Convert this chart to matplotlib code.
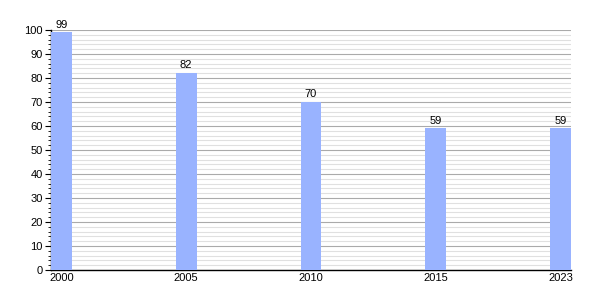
import matplotlib
matplotlib.use('Agg')
import matplotlib.pyplot as plt
import numpy as np
from matplotlib.ticker import MultipleLocator

plt.rcParams['font.family'] = ['Liberation Sans', 'DejaVu Sans']

years = ['2000', '2005', '2010', '2015', '2023']
values = [99, 82, 70, 59, 59]

BAR_W = 0.166

fig = plt.figure(figsize=(6, 3), dpi=100)
ax = fig.add_axes([51/600, 30/300, 520/600, 240/300])

x = np.arange(len(years))
ax.bar(x, values, width=BAR_W, align='edge', color='#99b3ff', zorder=3)
for xi, v in zip(x, values):
  ax.text(xi + BAR_W/2, v + 1.2, str(v), ha='center', va='bottom', fontsize=8, color='black')

ax.set_xlim(0, len(years) - 1 + BAR_W)
ax.set_ylim(0, 100)
ax.set_xticks(x + BAR_W/2)
ax.set_xticklabels(years, fontsize=8)
ax.tick_params(axis='x', length=0, pad=2)
ax.yaxis.set_major_locator(MultipleLocator(10))
ax.yaxis.set_minor_locator(MultipleLocator(2))
ax.tick_params(axis='y', which='major', length=4, labelsize=8, pad=2)
ax.tick_params(axis='y', which='minor', length=2)
ax.grid(axis='y', which='major', color='#aaaaaa', linewidth=0.8, zorder=0)
ax.grid(axis='y', which='minor', color='#e0e0e0', linewidth=0.8, zorder=0)
ax.set_axisbelow(True)
for s in ['top', 'right']:
  ax.spines[s].set_visible(False)
ax.spines['left'].set_linewidth(1)
ax.spines['bottom'].set_linewidth(1)

fig.savefig('out.png', dpi=100)
